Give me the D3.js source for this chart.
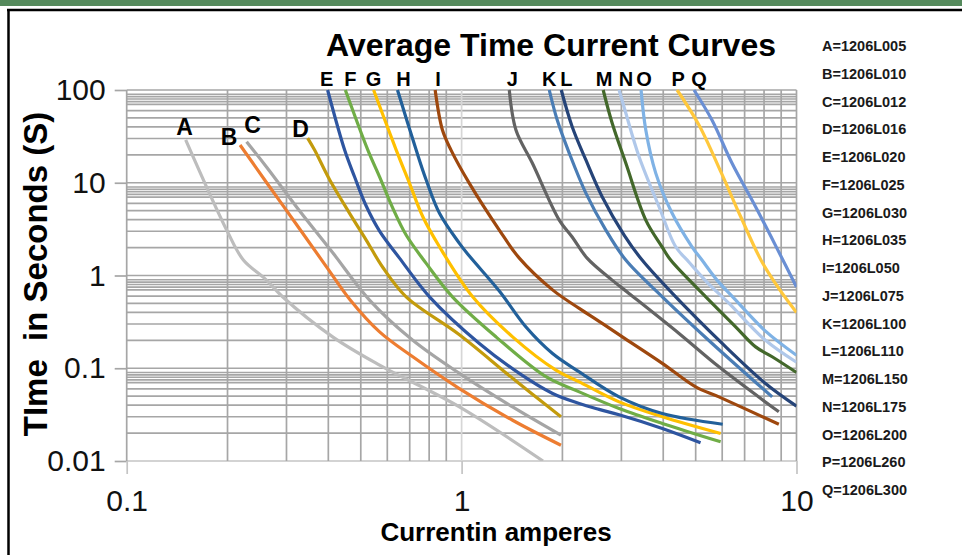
<!DOCTYPE html>
<html>
<head>
<meta charset="utf-8">
<script src="https://cdn.jsdelivr.net/npm/d3@7"></script>
<style>
  body { margin: 0; background: #fff; }
  svg { display: block; font-family: "Liberation Sans", Arial, sans-serif; }
</style>
</head>
<body>
<div id="chart"></div>
<script>
// fuse part numbers, one per curve letter
var letters = ["A","B","C","D","E","F","G","H","I","J","K","L","M","N","O","P","Q"];
var parts = ["1206L005","1206L010","1206L012","1206L016","1206L020","1206L025","1206L030","1206L035",
             "1206L050","1206L075","1206L100","1206L110","1206L150","1206L175","1206L200","1206L260","1206L300"];

// [current (A), time (s)]
var curveA = [[0.15,29],[0.2,2.96],[0.223,1.47],[0.26,0.91],[0.292,0.59],[0.412,0.218],[0.569,0.108],[0.985,0.0383],[1.75,0.01]];
var curveB = [[0.218,25.5],[0.2615,10.07],[0.3285,3.17],[0.395,1.24],[0.463,0.556],[0.569,0.247],[0.715,0.133],[0.985,0.0604],[1.42,0.0275],[1.98,0.0148]];
var curveC = [[0.228,27.7],[0.2615,14.8],[0.3285,4.95],[0.413,1.745],[0.531,0.543],[0.715,0.2],[0.985,0.088],[1.42,0.0383],[1.98,0.019]];
var curveD = [[0.347,30.3],[0.364,22.5],[0.404,10.7],[0.463,4.68],[0.519,2.41],[0.582,1.22],[0.683,0.589],[0.985,0.23],[1.42,0.078],[1.98,0.03]];
var curveE = [[0.398,100],[0.4475,22.5],[0.479,11.6],[0.519,5.61],[0.569,3.01],[0.6525,1.54],[0.802,0.589],[1.13,0.185],[1.487,0.088],[1.87,0.0535],[2.245,0.0417],[2.574,0.036],[2.953,0.0315],[3.975,0.0224],[5.17,0.0157]];
var curveF = [[0.4496,100],[0.525,22.5],[0.569,11.6],[0.623,5.33],[0.683,2.73],[0.784,1.35],[0.939,0.589],[1.267,0.218],[1.786,0.081],[2.245,0.0556],[2.953,0.0368],[3.975,0.0254],[5.936,0.0161]];
var curveG = [[0.546,100],[0.638,22.5],[0.699,9.85],[0.766,4.3],[0.859,2.04],[1.079,0.589],[1.42,0.218],[1.913,0.0954],[2.245,0.0713],[2.953,0.0434],[3.975,0.03],[5.936,0.0198]];
var curveH = [[0.6435,100],[0.7318,22.5],[0.784,10.7],[0.859,4.68],[0.985,2.22],[1.055,1.62],[1.296,0.68],[1.557,0.278],[1.869,0.144],[2.245,0.0914],[2.953,0.0491],[3.975,0.0325],[6.02,0.0249]];
var curveI = [[0.8337,100],[0.8766,37],[0.93,22.5],[1.055,9.85],[1.296,3.09],[1.487,1.54],[1.869,0.7],[2.245,0.442],[2.574,0.32],[3.02,0.218],[3.975,0.113],[5.0,0.063],[5.867,0.0491],[8.857,0.0249]];
var curveJ = [[1.388,100],[1.453,37],[1.626,16.3],[1.957,3.96],[2.139,2.6],[2.37,1.54],[2.815,0.892],[3.16,0.641],[4.459,0.237],[5.867,0.1035],[8.857,0.0339]];
var curveK = [[1.827,100],[1.93,47.4],[2.096,20.9],[2.35,7.74],[2.696,3.09],[3.092,1.467],[3.975,0.589],[5.6,0.185],[8.46,0.0491]];
var curveL = [[1.984,100],[2.139,40.2],[2.35,17.6],[2.628,7.06],[3.057,2.73],[3.46,1.467],[4.26,0.641],[6.0,0.185],[8.08,0.0685],[10,0.039]];
var curveM = [[2.647,100],[2.815,44],[3.092,16.3],[3.548,3.96],[3.967,2.04],[4.21,1.467],[5.36,0.589],[6.58,0.28],[7.55,0.17],[8.46,0.133],[10,0.09]];
var curveN = [[2.953,100],[3.092,56.5],[3.388,19.1],[3.886,5.51],[4.358,2.04],[4.77,1.4],[5.4,0.85],[6.29,0.5],[8.08,0.2],[10,0.116]];
var curveO = [[3.435,100],[3.548,37],[3.799,12.7],[4.249,4.71],[4.874,2.04],[5.22,1.467],[5.79,0.892],[6.5,0.57],[8.08,0.251],[10,0.138]];
var curveP = [[4.4,100],[5.114,41.9],[5.95,13],[6.82,4.27],[7.83,1.47],[8.8,0.75],[10,0.4]];
var curveQ = [[4.942,100],[5.592,47.4],[6.415,16.3],[7.547,5.51],[8.857,1.79],[10,0.75]];

var curves = [curveA,curveB,curveC,curveD,curveE,curveF,curveG,curveH,curveI,
              curveJ,curveK,curveL,curveM,curveN,curveO,curveP,curveQ];

var xTicks = [0.1, 1, 10];
var yTicks = [100, 10, 1, 0.1, 0.01];
var minorSteps = [2,3,4,5,6,7,7.5,8,8.5,9];

var colors = ["#bdbdbd","#ed7d31","#a5a5a5","#c39b0c","#2e55a0","#70ad47","#ffc000","#22609a",
              "#9e480e","#636363","#4a7db5","#264478","#43682b","#b0c8ea","#7fb2e5","#ffc83d","#6a8fd4"];

// label nudges in px: A-D sit beside their curve start, E-Q sit above the plot
var nearOffsets = [[-1,-5],[-11,0],[6,-9],[-7,-1]];
var topOffsets = [-1,5,0,6,3,3,0,5,1,7,3,1,5];

var W = 962, H = 555;
var svg = d3.select("#chart").append("svg")
    .attr("width", W).attr("height", H);

svg.append("rect").attr("width", W).attr("height", H).attr("fill", "#fff");

// frame bits from the slide
svg.append("rect").attr("x", 0).attr("y", 0).attr("width", W).attr("height", 6).attr("fill", "#558a5c");
svg.append("line").attr("x1", 7).attr("x2", W).attr("y1", 10).attr("y2", 10)
    .attr("stroke", "#000").attr("stroke-width", 2.5);
svg.append("line").attr("x1", 8.5).attr("x2", 8.5).attr("y1", 9).attr("y2", H)
    .attr("stroke", "#000").attr("stroke-width", 2.5);

var x = d3.scaleLog().domain([0.1, 10]).range([126.7, 796.5]);
var y = d3.scaleLog().domain([0.01, 100]).range([461, 90]);

// grid
var grid = svg.append("g");
var xGrid = [];
[0.1, 1].forEach(function(d) { for (var k = 1; k <= 9; k++) xGrid.push(k * d); });
xGrid.push(10);
var yGrid = [];
[0.01, 0.1, 1, 10].forEach(function(d) {
  yGrid.push(d);
  minorSteps.forEach(function(k) { yGrid.push(k * d); });
});
yGrid.push(100);

grid.selectAll("line.h").data(yGrid).enter().append("line")
    .attr("x1", x(0.1)).attr("x2", x(10))
    .attr("y1", function(d) { return y(d); }).attr("y2", function(d) { return y(d); })
    .attr("stroke", function(d) { return Math.abs(d - 0.01) < 1e-9 ? "#c4c4c4" : "#a6a6a6"; })
    .attr("stroke-width", 1.7);
grid.selectAll("line.v").data(xGrid).enter().append("line")
    .attr("y1", y(100)).attr("y2", y(0.01))
    .attr("x1", function(d) { return x(d); }).attr("x2", function(d) { return x(d); })
    .attr("stroke", function(d) { return Math.abs(d - 1) < 1e-9 ? "#d6d6d6" : "#a6a6a6"; })
    .attr("stroke-width", 1.7);

// axes
var yAxis = svg.append("g")
    .attr("transform", "translate(" + x(0.1) + ",0)")
    .call(d3.axisLeft(y).tickValues(yTicks).tickSize(12).tickPadding(9)
          .tickFormat(function(d) { return String(d); }));
yAxis.select(".domain").remove();
yAxis.selectAll("line").attr("stroke", "#a6a6a6").attr("stroke-width", 1.7);
yAxis.selectAll("text").attr("font-size", 30).attr("fill", "#111")
    .attr("font-family", "Liberation Sans, Arial, sans-serif");

var xAxis = svg.append("g")
    .attr("transform", "translate(0," + y(0.01) + ")")
    .call(d3.axisBottom(x).tickValues(xTicks).tickSize(13).tickPadding(16)
          .tickFormat(function(d) { return String(d); }));
xAxis.select(".domain").remove();
xAxis.selectAll("line").attr("stroke", "#c4c4c4").attr("stroke-width", 1.7);
xAxis.selectAll("text").attr("font-size", 30).attr("fill", "#111")
    .attr("font-family", "Liberation Sans, Arial, sans-serif");

// curves
svg.append("clipPath").attr("id", "plot")
  .append("rect").attr("x", x(0.1)).attr("y", y(100) - 1)
    .attr("width", x(10) - x(0.1)).attr("height", y(0.01) - y(100) + 1);

var line = d3.line()
    .x(function(d) { return x(d[0]); })
    .y(function(d) { return y(d[1]); })
    .curve(d3.curveCatmullRom.alpha(0.5));

svg.append("g").attr("clip-path", "url(#plot)")
  .selectAll("path").data(curves).enter().append("path")
    .attr("d", line)
    .attr("fill", "none")
    .attr("stroke", function(d, i) { return colors[i]; })
    .attr("stroke-width", 3.2);

// curve letters
svg.append("g").selectAll("text").data(curves.slice(0, 4)).enter().append("text")
    .attr("x", function(d, i) { return x(d[0][0]) + nearOffsets[i][0]; })
    .attr("y", function(d, i) { return y(d[0][1]) + nearOffsets[i][1]; })
    .attr("text-anchor", "middle")
    .attr("font-size", 23).attr("font-weight", "bold").attr("fill", "#000")
    .text(function(d, i) { return letters[i]; });

svg.append("g").selectAll("text").data(curves.slice(4)).enter().append("text")
    .attr("x", function(d, i) { return x(d[0][0]) + topOffsets[i]; })
    .attr("y", 86)
    .attr("text-anchor", "middle")
    .attr("font-size", 20).attr("font-weight", "bold").attr("fill", "#000")
    .text(function(d, i) { return letters[i + 4]; });

// titles
svg.append("text").attr("x", 551).attr("y", 56).attr("text-anchor", "middle")
    .attr("font-size", 32).attr("font-weight", "bold").attr("fill", "#000")
    .text("Average Time Current Curves");

svg.append("text").attr("x", 496).attr("y", 541).attr("text-anchor", "middle")
    .attr("font-size", 26).attr("font-weight", "bold").attr("fill", "#000")
    .text("Currentin amperes");

svg.append("text")
    .attr("transform", "translate(47,274) rotate(-90)")
    .attr("text-anchor", "middle")
    .attr("font-size", 33).attr("font-weight", "bold").attr("fill", "#000")
    .style("white-space", "pre")
    .text("TIme  in Seconds (S)");

// legend list on the right
svg.append("g").selectAll("text").data(letters).enter().append("text")
    .attr("x", 822)
    .attr("y", function(d, i) { return 51 + i * 27.75; })
    .attr("font-size", 14.5).attr("font-weight", "bold").attr("fill", "#1a1a1a")
    .text(function(d, i) { return d + "=" + parts[i]; });
</script>
</body>
</html>
